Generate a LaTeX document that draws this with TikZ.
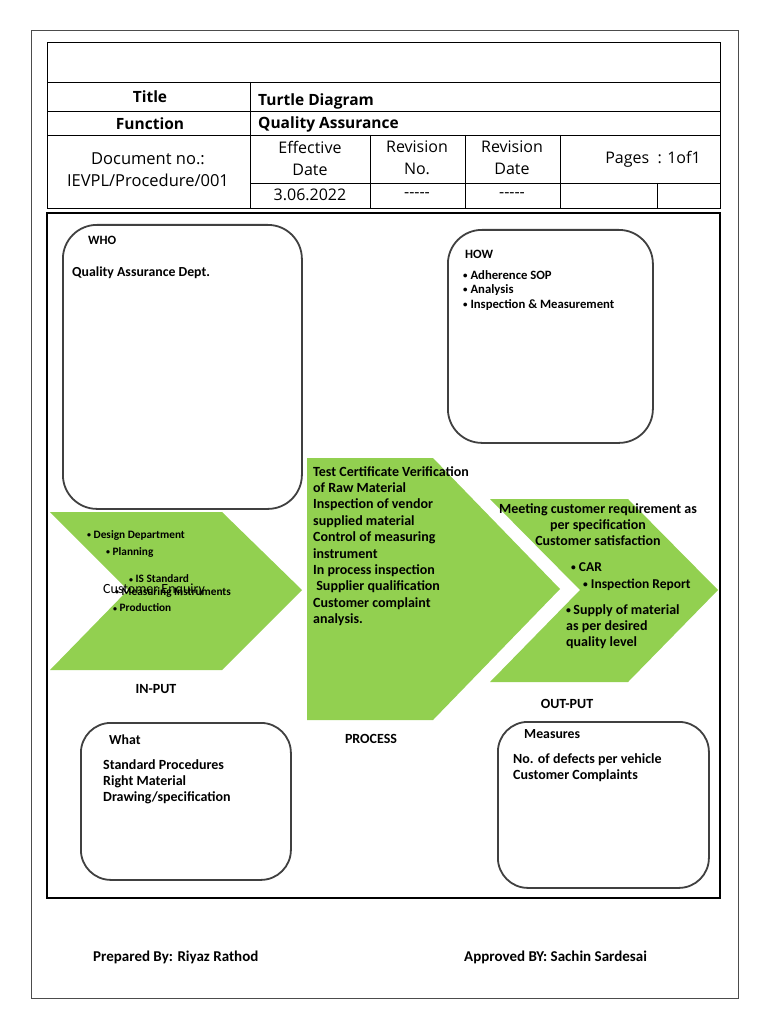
\documentclass[tikz,border=0pt]{standalone}
\usepackage{fontspec}
\usepackage{graphicx}
\setmainfont{Carlito}
\newfontfamily\hdr{Open Sans}
\definecolor{lgreen}{HTML}{92D050}
\definecolor{boxline}{HTML}{404040}
\newcommand\bul{\raisebox{0.15ex}{\scalebox{0.7}{•}}}
\begin{document}
\begin{tikzpicture}[x=1pt,y=-1pt,
  hcell/.style={inner sep=0pt, align=center, font=\hdr\fontsize{16}{22}\selectfont},
  hbold/.style={inner sep=0pt, font=\hdr\bfseries\fontsize{15.5}{18}\selectfont},
  rbox/.style={draw=boxline, line width=1.8pt, rounded corners=34pt, anchor=north west, inner sep=0pt},
  txt/.style={anchor=west, inner sep=0pt, align=left, font=\bfseries\fontsize{14}{16.4}\selectfont},
  stxt/.style={anchor=west, inner sep=0pt, font=\bfseries\fontsize{11.3}{14}\selectfont},
  htxt/.style={anchor=west, inner sep=0pt, font=\bfseries\fontsize{12.7}{15}\selectfont},
  mtxt/.style={anchor=west, inner sep=0pt, font=\bfseries\fontsize{13.8}{16}\selectfont},
  lbl/.style={inner sep=0pt, font=\bfseries\fontsize{14}{16}\selectfont}]
\useasboundingbox (0,0) rectangle (768,1024);
\fill[white] (0,0) rectangle (768,1024);
% page border
\draw[gray!60!black, line width=1pt] (31,31) rectangle (738,998);
% header table
\draw[line width=1pt] (47,43) rectangle (720,209);
\draw[line width=0.9pt] (47,82) -- (720,82) (47,111) -- (720,111) (47,135) -- (720,135)
  (250,82) -- (250,209) (250,183) -- (720,183)
  (370,135) -- (370,209) (465,135) -- (465,209) (560,135) -- (560,209)
  (657,183) -- (657,209);
\node[hbold] (tl) at (150,97) {Title};
\node[hbold, anchor=west] (tv) at (258,101) {Turtle Diagram};
\node[hbold] (fl) at (150,124) {Function};
\node[hbold, anchor=west] (fv) at (258,124) {Quality Assurance};
\node[hcell, font=\hdr\fontsize{16.5}{22}\selectfont] (doc) at (148,170) {Document no.:\\IEVPL/Procedure/001};
\node[hcell] (eff) at (310,158) {Effective\\Date};
\node[hcell] (rno) at (417,158) {Revision\\No.};
\node[hcell] (rdt) at (512,158) {Revision\\Date};
\node[hcell] (pg) at (653,159) {Pages \ : 1of1};
\node[hcell] (effv) at (310,195) {3.06.2022};
\node[hcell] (rnov) at (417,195) {-----};
\node[hcell] (rdtv) at (512,195) {-----};
% body frame
\draw[line width=2pt] (47,213) rectangle (720,898);
% chevrons
\fill[lgreen] (50,512) -- (222,512) -- (302,590) -- (222,670) -- (50,670) -- (128,590) -- cycle;
\fill[lgreen] (307,458) -- (433,458) -- (560,589) -- (433,720) -- (307,720) -- cycle;
\fill[lgreen] (490,499) -- (628,499) -- (718,590) -- (628,682) -- (490,682) -- (580,590) -- cycle;
% rounded boxes
\node[rbox, minimum width=239pt, minimum height=284pt] (who) at (62,224) {};
\node[rbox, minimum width=205pt, minimum height=213pt] (how) at (447,229) {};
\node[rbox, minimum width=210pt, minimum height=157pt, rounded corners=30pt] (what) at (80,722) {};
\node[rbox, minimum width=211pt, minimum height=166pt, rounded corners=30pt] (meas) at (497,721) {};
% WHO
\node[htxt] (whot) at (88,240) {WHO};
\node[mtxt] (whov) at (72,273) {Quality Assurance Dept.};
% HOW
\node[htxt] (howt) at (465,254) {HOW};
\node[htxt] (how1) at (463,275) {\bul\ Adherence SOP};
\node[htxt] (how2) at (463,290) {\bul\ Analysis};
\node[htxt] (how3) at (463,305) {\bul\ Inspection \& Measurement};
% INPUT
\node[stxt] (in1) at (87,535) {\bul\ Design Department};
\node[stxt] (in2) at (106,552) {\bul\ Planning};
\node[stxt] (in3) at (129,579) {\bul\ IS Standard};
\node[anchor=west, inner sep=0pt, font=\fontsize{14}{16}\selectfont] (in4) at (103,590) {Customer Enquiry};
\node[stxt] (in5) at (115,592) {\bul\ Measuring Instruments};
\node[stxt] (in6) at (113,608) {\bul\ Production};
\node[lbl] (inl) at (156,689) {IN-PUT};
% PROCESS
\node[txt, anchor=north west] (proc) at (313,466) {Test Certificate Verification\\of Raw Material\\Inspection of vendor\\supplied material\\Control of measuring\\instrument\\In process inspection\\\ Supplier qualification\\Customer complaint\\analysis.};
\node[lbl] (procl) at (371,739) {PROCESS};
% OUTPUT
\node[txt, anchor=north, align=center] (out1) at (598,503) {Meeting customer requirement as\\per specification\\Customer satisfaction};
\node[txt, font=\bfseries\fontsize{13.5}{16}\selectfont] (out2) at (571,567) {\bul\ CAR};
\node[txt, font=\bfseries\fontsize{13.5}{16}\selectfont] (out3) at (583,585) {\bul\ Inspection Report};
\node[txt, anchor=north west] (out4) at (566,604) {\bul\,Supply of material\\as per desired\\quality level};
\node[lbl] (outl) at (567,704) {OUT-PUT};
% WHAT
\node[mtxt] (whatt) at (109,740) {What};
\node[txt, anchor=north west] (whatv) at (103,759) {Standard Procedures\\Right Material\\Drawing/specification};
% MEASURES
\node[mtxt] (meast) at (524,734) {Measures};
\node[txt, anchor=north west] (measv) at (513,753) {No. of defects per vehicle\\Customer Complaints};
% footer
\node[lbl, font=\bfseries\fontsize{15}{17}\selectfont, anchor=west] (prep) at (93,957) {Prepared By: Riyaz Rathod};
\node[lbl, font=\bfseries\fontsize{15}{17}\selectfont, anchor=west] (appr) at (464,957) {Approved BY: Sachin Sardesai};
\end{tikzpicture}
\end{document}
